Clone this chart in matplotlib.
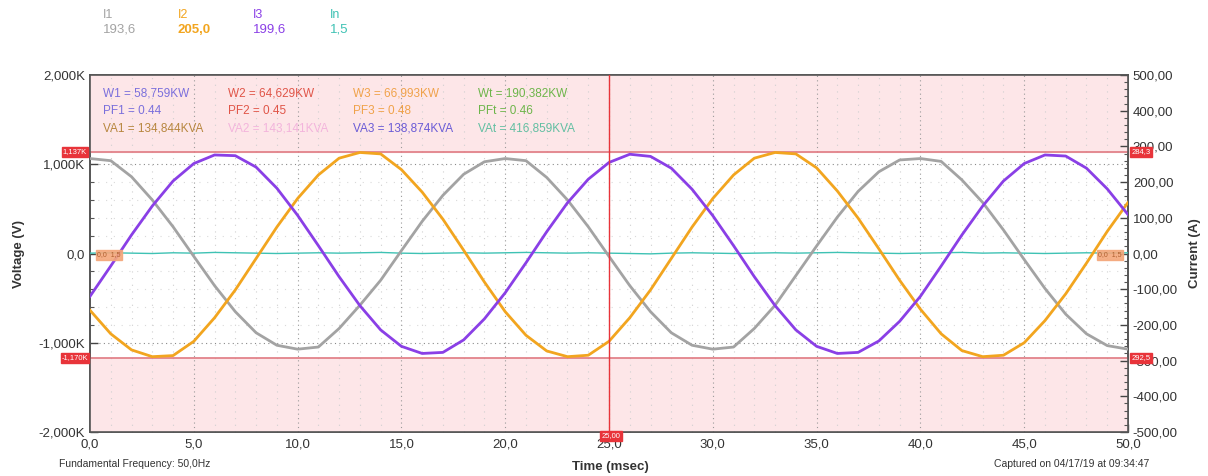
"""
three phase current capture, redrawn from an analyser screenshot
"""

import numpy as np
import matplotlib
matplotlib.use("Agg")
import matplotlib.pyplot as plt
from matplotlib.ticker import FixedLocator, MultipleLocator

plt.rcParams['font.family'] = ['Liberation Sans', 'DejaVu Sans']

# time axis, one reading per msec
time_ms = list(range(0, 51))

# currents (A)
i1 = [266, 260, 215, 150, 75, -8, -90, -163, -222, -257,
      -268, -262, -210, -145, -75, 8, 90, 163, 222, 257,
      266, 260, 213, 150, 75, -8, -90, -163, -222, -257,
      -268, -262, -210, -145, -62, 21, 102, 174, 229, 262,
      266, 258, 206, 143, 66, -17, -98, -170, -225, -258, -268]
i2 = [-159, -225, -270, -289, -286, -246, -180, -102, -14, 74,
      154, 220, 267, 283, 279, 235, 172, 96, 9, -80,
      -163, -229, -273, -289, -285, -246, -180, -102, -14, 74,
      154, 220, 267, 283, 279, 240, 175, 99, 13, -75,
      -156, -225, -272, -289, -285, -250, -188, -113, -27, 62, 143]
i3 = [-120, -35, 52, 133, 203, 252, 276, 274, 242, 183,
      107, 22, -65, -146, -214, -260, -280, -277, -242, -183,
      -110, -26, 61, 142, 208, 255, 278, 272, 239, 180,
      106, 22, -65, -146, -214, -260, -280, -277, -245, -190,
      -120, -35, 52, 133, 203, 252, 276, 273, 239, 181, 109]
i_n = [1, 2, 1, 0, 2, 1, 3, 2, 1, 0,
       1, 2, 1, 2, 3, 1, 0, 1, 2, 1,
       2, 3, 2, 1, 2, 1, 0, -1, 1, 2,
       1, 0, 1, 2, 1, 2, 3, 2, 1, 0,
       1, 2, 3, 1, 2, 1, 0, 1, 2, 1, 2]

# readouts
legend_names = ["I1", "I2", "I3", "In"]
legend_values = ["193,6", "205,0", "199,6", "1,5"]
power_rows = [
    ["W1 = 58,759KW", "W2 = 64,629KW", "W3 = 66,993KW", "Wt = 190,382KW"],
    ["PF1 = 0.44", "PF2 = 0.45", "PF3 = 0.48", "PFt = 0.46"],
    ["VA1 = 134,844KVA", "VA2 = 143,141KVA", "VA3 = 138,874KVA", "VAt = 416,859KVA"],
]
cursor_hi_a = 284.3
cursor_lo_a = -292.5
cursor_hi_v = "1,137K"
cursor_lo_v = "-1,170K"
cursor_t = 25.0

x_ticks = [0, 5, 10, 15, 20, 25, 30, 35, 40, 45, 50]
x_labels = ["0,0", "5,0", "10,0", "15,0", "20,0", "25,0", "30,0", "35,0", "40,0", "45,0", "50,0"]
v_ticks = [-2000, -1000, 0, 1000, 2000]
v_labels = ["-2,000K", "-1,000K", "0,0", "1,000K", "2,000K"]
a_ticks = [-500, -400, -300, -200, -100, 0, 100, 200, 300, 400, 500]
a_labels = ["-500,00", "-400,00", "-300,00", "-200,00", "-100,00", "0,00",
            "100,00", "200,00", "300,00", "400,00", "500,00"]

C_I1 = "#a3a3a3"
C_I2 = "#f2a51f"
C_I3 = "#8a3fe6"
C_IN = "#3fc2b4"
PINK = "#fde6e8"
RED = "#e8343a"
LINE_RED = "#e07a82"
TXT = "#333333"

W, H = 1208, 476


def fp(x, y):
    return x / W, 1 - y / H


fig = plt.figure(figsize=(W / 100, H / 100), dpi=100)
ax = fig.add_axes([90 / W, 1 - 432 / H, (1128 - 90) / W, (432 - 75) / H])
ax2 = ax.twinx()

ax.set_xlim(0, 50)
ax.set_ylim(-2000, 2000)
ax2.set_ylim(-500, 500)

# shaded regions outside the cursor band
ax2.axhspan(cursor_hi_a, 500, color=PINK, zorder=0)
ax2.axhspan(-500, cursor_lo_a, color=PINK, zorder=0)

# dotted grid
for t in range(1, 50):
    major = t % 5 == 0
    ax2.axvline(t, color="#9a9a9a" if major else "#d0d0d0", lw=0.8,
                ls=(0, (1, 3)) if major else (0, (1, 5)), zorder=1)
for v in range(-1800, 2000, 200):
    if v == 0:
        continue
    major = v % 1000 == 0
    ax.axhline(v, color="#8a8a8a" if major else "#dadada", lw=0.8,
               ls=(0, (1, 3)) if major else (0, (1, 6)), zorder=1)

# cursor lines
ax2.axhline(cursor_hi_a, color=LINE_RED, lw=1.2, zorder=2)
ax2.axhline(cursor_lo_a, color=LINE_RED, lw=1.2, zorder=2)
ax2.axvline(cursor_t, color=RED, lw=1.0, zorder=6)

# currents
ax2.plot(time_ms, i_n, color=C_IN, lw=1.0, zorder=3)
ax2.plot(time_ms, i1, color=C_I1, lw=2.0, zorder=4)
ax2.plot(time_ms, i2, color=C_I2, lw=2.0, zorder=4)
ax2.plot(time_ms, i3, color=C_I3, lw=2.0, zorder=4)

# axes, ticks, labels
ax.xaxis.set_major_locator(FixedLocator(x_ticks))
ax.set_xticklabels(x_labels)
ax.xaxis.set_minor_locator(MultipleLocator(1))
ax.yaxis.set_major_locator(FixedLocator(v_ticks))
ax.set_yticklabels(v_labels)
ax.yaxis.set_minor_locator(MultipleLocator(200))
ax2.yaxis.set_major_locator(FixedLocator(a_ticks))
ax2.set_yticklabels(a_labels)
ax2.yaxis.set_minor_locator(MultipleLocator(20))

for a in (ax, ax2):
    a.tick_params(which="major", direction="in", length=6, width=1,
                  color="#444444", labelsize=9.5, labelcolor=TXT)
    a.tick_params(which="minor", direction="in", length=3, width=0.8, color="#555555")
    for s in a.spines.values():
        s.set_color("#555555")
        s.set_linewidth(1.2)
ax.tick_params(axis="x", pad=5)

ax.set_ylabel("Voltage (V)", fontsize=9.5, fontweight="bold", color=TXT, labelpad=10)
ax2.set_ylabel("Current (A)", fontsize=9.5, fontweight="bold", color=TXT, labelpad=8)
fig.text(*fp(610, 467), "Time (msec)", fontsize=9.5, fontweight="bold",
         color=TXT, ha="center", va="center")
fig.text(*fp(59, 464), "Fundamental Frequency: 50,0Hz", fontsize=7.5,
         color=TXT, ha="left", va="center")
fig.text(*fp(1149, 464), "Captured on 04/17/19 at 09:34:47", fontsize=7.5,
         color=TXT, ha="right", va="center")

# legend block at top
leg_colors = [C_I1, C_I2, C_I3, C_IN]
leg_x = [103, 178, 253, 330]
for name, val, col, x in zip(legend_names, legend_values, leg_colors, leg_x):
    fig.text(*fp(x, 15), name, fontsize=9, color=col, ha="left", va="center")
    fig.text(*fp(x, 30), val, fontsize=9.5, color=col, ha="left", va="center",
             fontweight="bold" if name == "I2" else "normal")

# power readouts in the shaded top area
row_colors = [
    ["#7a6fdc", "#e05548", "#f0a24a", "#6db54a"],
    ["#7a6fdc", "#e05548", "#f0a24a", "#6db54a"],
    ["#b7863e", "#f3b4dc", "#6a5bd6", "#62bfa2"],
]
col_x = [103, 228, 353, 478]
row_y = [93, 111, 129]
for texts, cols, y in zip(power_rows, row_colors, row_y):
    for s, c, x in zip(texts, cols, col_x):
        fig.text(*fp(x, y), s, fontsize=8.5, color=c, ha="left", va="center")

# cursor value tags
tag = dict(boxstyle="square,pad=0.15", fc=RED, ec=RED)
fig.text(*fp(75, 152), cursor_hi_v, fontsize=5.5, color="white", ha="center", va="center", bbox=tag)
fig.text(*fp(75, 358), cursor_lo_v, fontsize=5.5, color="white", ha="center", va="center", bbox=tag)
fig.text(*fp(1141, 152), "284,3", fontsize=5.5, color="white", ha="center", va="center", bbox=tag)
fig.text(*fp(1141, 358), "292,5", fontsize=5.5, color="white", ha="center", va="center", bbox=tag)
fig.text(*fp(611, 436), "25,00", fontsize=5.5, color="white", ha="center", va="center", bbox=tag,
         zorder=10)

# neutral marker tags on the zero line
otag = dict(boxstyle="square,pad=0.2", fc="#f4a77a", ec="#f4a77a", alpha=0.9)
fig.text(*fp(109, 255), "0,0  1,5", fontsize=5, color="#b06030", ha="center", va="center", bbox=otag)
fig.text(*fp(1110, 255), "0,0  1,5", fontsize=5, color="#b06030", ha="center", va="center", bbox=otag)

fig.savefig("out.png", dpi=100)
